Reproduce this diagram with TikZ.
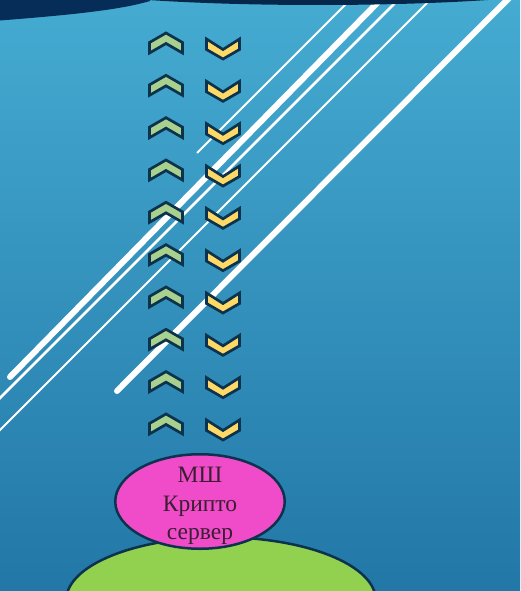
\documentclass[tikz,border=0pt]{standalone}
\usepackage{fontspec}
\setmainfont{Liberation Serif}
\usetikzlibrary{shapes.geometric}
\definecolor{bgtop}{RGB}{69,171,209}
\definecolor{bgbot}{RGB}{34,119,167}
\definecolor{navy}{RGB}{6,44,88}
\definecolor{navyband}{RGB}{5,40,74}
\definecolor{outl}{RGB}{12,50,78}
\definecolor{chevgreen}{RGB}{169,209,142}
\definecolor{chevyellow}{RGB}{255,217,102}
\definecolor{pinkfill}{RGB}{240,75,200}
\definecolor{greenfill}{RGB}{146,208,80}
\definecolor{txtdark}{RGB}{58,30,50}
\tikzset{
  upchev/.style={fill=chevgreen, draw=outl, line width=2.7pt, line join=miter},
  downchev/.style={fill=chevyellow, draw=outl, line width=2.7pt, line join=miter},
  thickline/.style={draw=white, line width=6pt, line cap=round},
  medline/.style={draw=white, line width=2.8pt},
  thinline/.style={draw=white, line width=2pt},
  blob/.style={ellipse, draw=outl, line width=2.5pt}
}
\begin{document}
\begin{tikzpicture}[x=1pt,y=-1pt]
\useasboundingbox (0,0) rectangle (520,591);
% background
\fill[top color=bgtop, bottom color=bgbot] (0,0) rectangle (520,591);
% white diagonal lines
\draw[thinline] (350,0) -- (197,153);
\draw[thickline] (385,-5) -- (10,377);
\draw[medline] (398,0) -- (-2,400);
\draw[thinline] (430,0) -- (-2,432);
\draw[thickline] (510,-3) -- (117,391);
% top dark shapes
\fill[navyband] (318,-20) ellipse [x radius=283, y radius=25];
\fill[navy] (0,0) -- (0,20.5) .. controls (70,15) and (120,10) .. (150,1) -- (150,0) -- cycle;
% chevrons
\foreach \i in {0,...,9}{
  \pgfmathsetmacro\ya{33+42.33*\i}
  \pgfmathsetmacro\yb{39+42.33*\i}
  \draw[upchev] (166,\ya) +(-16.5,9.5) -- +(0,0) -- +(16.5,9.5) -- +(16.5,20) -- +(0,10.5) -- +(-16.5,20) -- cycle;
  \draw[downchev] (223,\yb) +(-16.5,0) -- +(0,10.5) -- +(16.5,0) -- +(16.5,10.5) -- +(0,20) -- +(-16.5,10.5) -- cycle;
}
% ellipses
\node[blob, fill=greenfill, minimum width=309.5pt, minimum height=125.5pt, inner sep=0pt] (client) at (221,600) {};
\node[blob, fill=pinkfill, minimum width=169.5pt, minimum height=94.5pt, inner sep=0pt] (crypto) at (200,501.5) {};
\node[text=txtdark, align=center, inner sep=0pt, font=\fontsize{23.5}{28.7}\selectfont] (cryptolabel) at (200,506) {МШ\\Крипто\\сервер};
\end{tikzpicture}
\end{document}
